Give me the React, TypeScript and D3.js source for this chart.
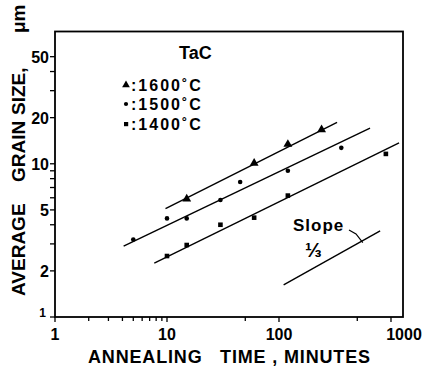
import * as d3 from 'd3';
import { useEffect, useRef } from 'react';

// grain size (um) vs annealing time (min)
const times1600 = [15, 60, 120, 240];
const size1600 = [5.9, 10.1, 13.4, 16.7];
const times1500 = [5, 10, 15, 30, 45, 120, 360];
const size1500 = [3.2, 4.4, 4.4, 5.8, 7.6, 9.0, 12.7];
const times1400 = [10, 15, 30, 60, 120, 900];
const size1400 = [2.5, 2.95, 4.0, 4.45, 6.2, 11.6];

// fitted lines, end points [time, size]
const fit1600 = [[9.7, 5.1], [330, 18.6]];
const fit1500 = [[4.1, 2.9], [650, 17.1]];
const fit1400 = [[7.7, 2.25], [1180, 13.7]];
const slopeRef = [[110, 1.62], [800, 3.65]];

const xMajor = [1, 10, 100, 1000];
const xMinor = [2, 3, 4, 5, 6, 7, 8, 9, 50, 500];
const yMajor = [1, 2, 5, 10, 20, 50];
const yMinor = [3, 4, 6, 7, 8, 9, 30, 40];

const legendLabels = [':1600˚C', ':1500˚C', ':1400˚C'];
// y title words, bottom to top, with where each one starts (px from top)
const yTitleWords = ['AVERAGE', 'GRAIN', 'SIZE,', 'μm'];
const yTitleStart = [296, 182, 115, 33];

const FONT = '"Liberation Sans", Arial, sans-serif';

function drawChart(el: SVGSVGElement) {
  const svg = d3.select(el);
  svg.selectAll('*').remove();

  const x = d3.scaleLog().domain([1, 1280]).range([55, 403]);
  const y = d3.scaleLog().domain([1, 73]).range([317, 31.5]);

  const g = svg.append('g').style('font-family', FONT).style('font-weight', 'bold');

  // frame
  g.append('rect')
    .attr('x', x(1)).attr('y', y(73))
    .attr('width', x(1280) - x(1)).attr('height', y(1) - y(73))
    .attr('fill', 'none').attr('stroke', '#000').attr('stroke-width', 1.8);

  // x ticks
  g.selectAll('.xt').data(xMajor.concat(xMinor)).enter().append('line')
    .attr('x1', d => x(d)).attr('x2', d => x(d))
    .attr('y1', y(1)).attr('y2', d => y(1) + (xMajor.includes(d) ? 5 : 4))
    .attr('stroke', '#000').attr('stroke-width', 1.3);
  g.selectAll('.xl').data(xMajor).enter().append('text')
    .attr('x', d => x(d) + (d === 1000 ? 13 : 0)).attr('y', 340)
    .attr('text-anchor', 'middle').attr('font-size', 16)
    .text(d => d);

  // y ticks
  g.selectAll('.yt').data(yMajor.concat(yMinor)).enter().append('line')
    .attr('y1', d => y(d)).attr('y2', d => y(d))
    .attr('x1', x(1)).attr('x2', x(1) - 5)
    .attr('stroke', '#000').attr('stroke-width', 1.3);
  g.selectAll('.yl').data(yMajor).enter().append('text')
    .attr('x', d => (d === 1 ? 46 : 49)).attr('y', d => y(d) + (d === 1 ? -3 : 2))
    .attr('text-anchor', 'end').attr('font-size', d => (d === 1 ? 12 : 16))
    .attr('dominant-baseline', 'middle')
    .text(d => d);

  // axis titles
  g.append('text')
    .attr('x', 88).attr('y', 363)
    .attr('font-size', 18)
    .attr('textLength', 282).attr('lengthAdjust', 'spacing')
    .style('white-space', 'pre')
    .text('ANNEALING   TIME , MINUTES');
  g.selectAll('.yw').data(yTitleWords).enter().append('text')
    .attr('transform', (d, i) => `translate(25,${yTitleStart[i]}) rotate(-90)`)
    .attr('font-size', 19)
    .text(d => d);

  // fit lines
  const line = d3.line<number[]>().x(d => x(d[0])).y(d => y(d[1]));
  [fit1600, fit1500, fit1400, slopeRef].forEach(f => {
    g.append('path').attr('d', line(f)).attr('fill', 'none')
      .attr('stroke', '#000').attr('stroke-width', 1.4);
  });

  const tri = d3.symbol().type(d3.symbolTriangle).size(34);
  g.selectAll('.tri').data(d3.zip(times1600, size1600)).enter().append('path')
    .attr('d', tri).attr('transform', d => `translate(${x(d[0])},${y(d[1])})`)
    .attr('fill', '#000');
  g.selectAll('.cir').data(d3.zip(times1500, size1500)).enter().append('circle')
    .attr('cx', d => x(d[0])).attr('cy', d => y(d[1])).attr('r', 2.3)
    .attr('fill', '#000');
  g.selectAll('.sq').data(d3.zip(times1400, size1400)).enter().append('rect')
    .attr('x', d => x(d[0]) - 2.3).attr('y', d => y(d[1]) - 2.3)
    .attr('width', 4.6).attr('height', 4.6).attr('fill', '#000');

  // legend
  g.append('text').attr('x', 179).attr('y', 59).attr('font-size', 18).text('TaC');
  const ly = [85, 104, 124];
  g.append('path').attr('d', d3.symbol().type(d3.symbolTriangle).size(26)())
    .attr('transform', `translate(126,${ly[0]})`);
  g.append('circle').attr('cx', 126).attr('cy', ly[1]).attr('r', 2.1);
  g.append('rect').attr('x', 124).attr('y', ly[2] - 2).attr('width', 4.2).attr('height', 4.2);
  g.selectAll('.lg').data(legendLabels).enter().append('text')
    .attr('x', 131).attr('y', (d, i) => ly[i] + 6).attr('font-size', 16)
    .attr('letter-spacing', 2)
    .text(d => d);

  // slope annotation
  g.append('text').attr('x', 293).attr('y', 231).attr('font-size', 17)
    .attr('letter-spacing', 1).text('Slope');
  g.append('path')
    .attr('d', `M349,230 L356,234 L${x(560)},${y(3.06)}`)
    .attr('fill', 'none').attr('stroke', '#000').attr('stroke-width', 1.2);
  g.append('text').attr('x', 305).attr('y', 257).attr('font-size', 20).text('⅓');
}

export default function App() {
  const ref = useRef<SVGSVGElement>(null);
  useEffect(() => {
    if (ref.current) drawChart(ref.current);
  }, []);
  return (
    <svg ref={ref} width={428} height={370}
      style={{ position: 'absolute', left: 0, top: 0, background: '#fff' }} />
  );
}
